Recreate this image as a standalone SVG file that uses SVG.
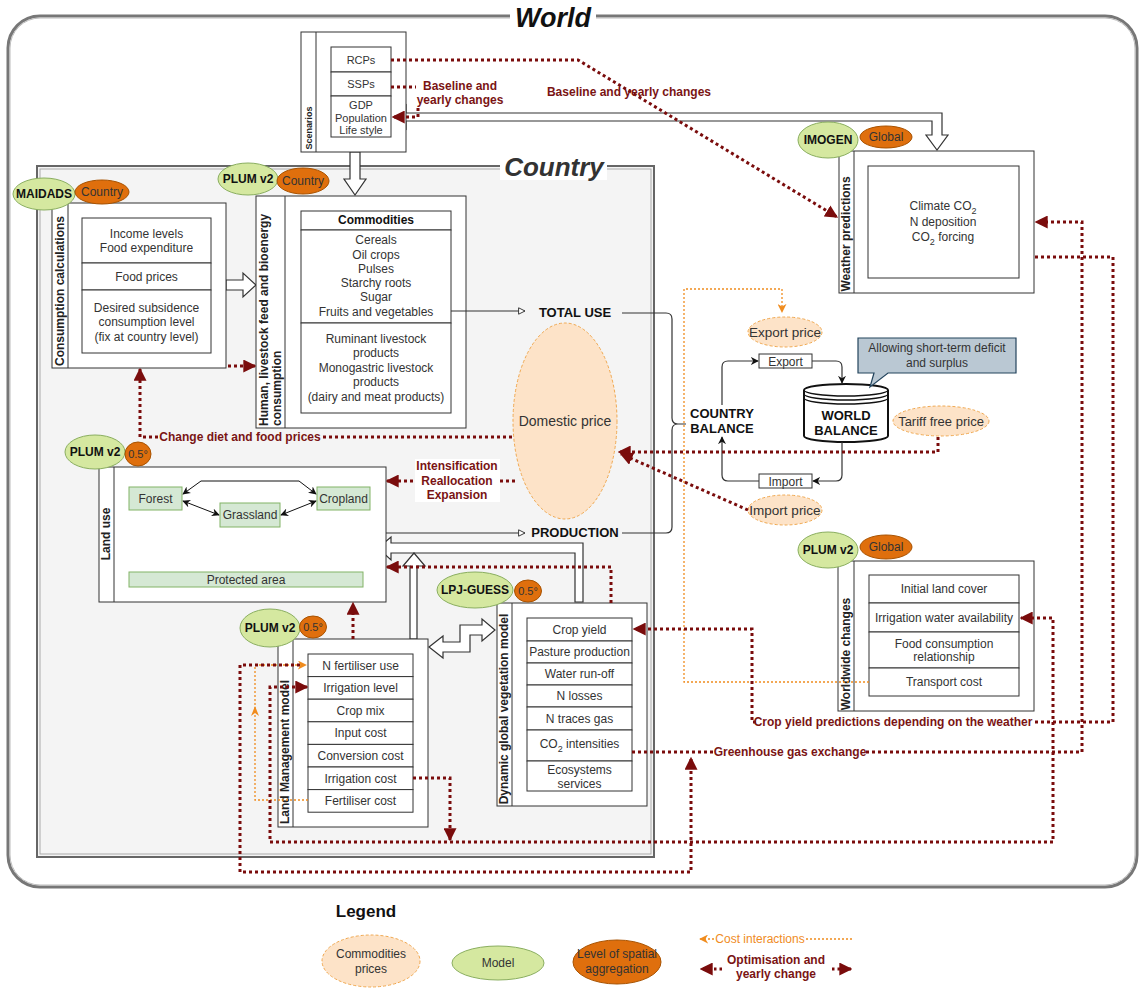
<svg xmlns="http://www.w3.org/2000/svg" width="1140" height="991" viewBox="0 0 1140 991">
<style>
text{font-family:"Liberation Sans",Arial,sans-serif;fill:#333;text-anchor:middle}
.t{font-size:12px}
.s{font-size:11px}
.b{font-weight:bold}
.strip{font-size:12px;font-weight:bold;fill:#222}
.box{fill:#fff;stroke:#333;stroke-width:1}
.green{fill:#d5e8a0;stroke:#8aae60;stroke-width:1}
.orange{fill:#df6f0d;stroke:#a85200;stroke-width:1}
.peach{fill:#fde3c8;stroke:#f0a850;stroke-width:1;stroke-dasharray:3 2}
.lu{fill:#d5e8d4;stroke:#82b366;stroke-width:1}
.red{fill:none;stroke:#7a0c0c;stroke-width:3;stroke-dasharray:3 3}
.org{fill:none;stroke:#f08c1e;stroke-width:1.3;stroke-dasharray:2 2}
.blk{fill:none;stroke:#333;stroke-width:1.2}
.hollow{fill:#fff;stroke:#333;stroke-width:1.2}
.rl{font-size:12px;font-weight:bold;fill:#7a1414}
</style>
<defs>
<marker id="mr" viewBox="0 0 10 10" refX="9" refY="5" markerWidth="13" markerHeight="13" markerUnits="userSpaceOnUse" orient="auto-start-reverse"><path d="M0,0 L10,5 L0,10 z" fill="#7a0c0c"/></marker>
<marker id="mb" viewBox="0 0 10 10" refX="9" refY="5" markerWidth="8" markerHeight="8" markerUnits="userSpaceOnUse" orient="auto-start-reverse"><path d="M0,0 L10,5 L0,10 L3,5 z" fill="#111"/></marker>
<marker id="mo" viewBox="0 0 10 10" refX="9" refY="5" markerWidth="9" markerHeight="9" markerUnits="userSpaceOnUse" orient="auto-start-reverse"><path d="M0,0 L10,5 L0,10 L3,5 z" fill="#f08c1e"/></marker>
<marker id="mw" viewBox="0 0 10 10" refX="9" refY="5" markerWidth="8" markerHeight="8" markerUnits="userSpaceOnUse" orient="auto"><path d="M1,1 L9,5 L1,9 z" fill="#fff" stroke="#333" stroke-width="1.2"/></marker>
</defs>

<!-- Frames -->
<g id="world-frame">
<rect x="8" y="16" width="1129" height="871" rx="32" fill="#fff" stroke="#777" stroke-width="3"/>
<rect x="10" y="18" width="1125" height="867" rx="30" fill="none" stroke="#bbb" stroke-width="1"/>
<rect x="510" y="4" width="86" height="26" fill="#fff"/>
<text x="553" y="27" style="font-size:27px;font-weight:bold;font-style:italic;fill:#111">World</text>
</g>
<g id="country-frame">
<rect x="37" y="166" width="617" height="691" fill="#f4f4f4" stroke="#666" stroke-width="2"/>
<rect x="40" y="169" width="611" height="685" fill="none" stroke="#aaa" stroke-width="1"/>
<rect x="500" y="152" width="107" height="28" fill="#fff"/>
<text x="554" y="176" style="font-size:26px;font-weight:bold;font-style:italic;fill:#333">Country</text>
</g>

<!-- Hollow arrows -->
<g id="hollow-arrows">
<polygon class="hollow" points="392,117 406,105 406,113 942,113 942,135 948,135 937,150 926,135 932,135 932,121 406,121 406,129"/>
<polygon class="hollow" points="350,152 360,152 360,179 366,179 355,195 344,179 350,179"/>
<polygon class="hollow" points="226,280 243,280 243,273 256,285 243,297 243,290 226,290"/>
<polygon class="hollow" points="378,548 391,537 391,543 583,543 583,602 575,602 575,553 391,553 391,560"/>
<polygon class="hollow" points="410,639 410,566 403,566 414,553 425,566 417,566 417,639"/>
<polygon class="hollow" points="429,647 443,636 443,642 460,642 460,625 482,625 482,619 495,630 482,641 482,635 470,635 470,652 443,652 443,658"/>
</g>

<!-- Scenarios -->
<g id="scenarios">
<rect class="box" x="301" y="32" width="105" height="120"/>
<line x1="316" y1="32" x2="316" y2="152" stroke="#333"/>
<text transform="translate(312,128) rotate(-90)" style="font-size:9px;font-weight:bold;fill:#222">Scenarios</text>
<rect class="box" x="331" y="47" width="60" height="25"/>
<rect class="box" x="331" y="72" width="60" height="24"/>
<rect class="box" x="331" y="96" width="60" height="41"/>
<text class="s" x="361" y="64">RCPs</text>
<text class="s" x="361" y="88">SSPs</text>
<text class="s" x="361" y="109">GDP</text>
<text class="s" x="361" y="122">Population</text>
<text class="s" x="361" y="134">Life style</text>
</g>

<!-- Weather predictions -->
<g id="weather">
<rect class="box" x="839" y="151" width="195" height="142"/>
<line x1="854" y1="151" x2="854" y2="293" stroke="#333"/>
<text class="strip" transform="translate(850,234) rotate(-90)">Weather predictions</text>
<rect class="box" x="868" y="166" width="151" height="112"/>
<text class="t" x="943" y="210">Climate CO<tspan dy="4" style="font-size:9px">2</tspan></text>
<text class="t" x="943" y="226">N deposition</text>
<text class="t" x="943" y="241">CO<tspan dy="4" style="font-size:9px">2</tspan><tspan dy="-4"> forcing</tspan></text>
<ellipse class="green" cx="828" cy="140" rx="30" ry="18"/>
<text class="t b" x="828" y="144" style="fill:#111">IMOGEN</text>
<ellipse class="orange" cx="886" cy="137" rx="26" ry="11"/>
<text class="t" x="886" y="141">Global</text>
</g>

<!-- Consumption calculations -->
<g id="consumption">
<rect class="box" x="52" y="203" width="174" height="165"/>
<line x1="68" y1="203" x2="68" y2="368" stroke="#333"/>
<text class="strip" transform="translate(64,291) rotate(-90)">Consumption calculations</text>
<rect class="box" x="82" y="218" width="129" height="45"/>
<rect class="box" x="82" y="263" width="129" height="27"/>
<rect class="box" x="82" y="290" width="129" height="63"/>
<text class="t" x="146.5" y="238">Income levels</text>
<text class="t" x="146.5" y="252">Food expenditure</text>
<text class="t" x="146.5" y="281">Food prices</text>
<text class="t" x="146.5" y="312">Desired subsidence</text>
<text class="t" x="146.5" y="326">consumption level</text>
<text class="t" x="146.5" y="341">(fix at country level)</text>
<ellipse class="green" cx="44" cy="194" rx="31" ry="16"/>
<text class="t b" x="44" y="198" style="fill:#111">MAIDADS</text>
<ellipse class="orange" cx="102" cy="192" rx="27" ry="12"/>
<text class="t" x="102" y="196">Country</text>
</g>

<!-- Human consumption -->
<g id="human-consumption">
<rect class="box" x="256" y="196" width="210" height="232"/>
<line x1="285" y1="196" x2="285" y2="428" stroke="#333"/>
<text class="strip" transform="translate(268,426) rotate(-90)" style="text-anchor:start">Human, livestock feed and bioenergy</text>
<text class="strip" transform="translate(281,426) rotate(-90)" style="text-anchor:start">consumption</text>
<rect class="box" x="301" y="211" width="150" height="19"/>
<rect class="box" x="301" y="230" width="150" height="93"/>
<rect class="box" x="301" y="323" width="150" height="90"/>
<text class="t b" x="376" y="224" style="fill:#111">Commodities</text>
<text class="t" x="376" y="244">Cereals</text>
<text class="t" x="376" y="259">Oil crops</text>
<text class="t" x="376" y="273">Pulses</text>
<text class="t" x="376" y="287">Starchy roots</text>
<text class="t" x="376" y="301">Sugar</text>
<text class="t" x="376" y="316">Fruits and vegetables</text>
<text class="t" x="376" y="343">Ruminant livestock</text>
<text class="t" x="376" y="357">products</text>
<text class="t" x="376" y="372">Monogastric livestock</text>
<text class="t" x="376" y="386">products</text>
<text class="t" x="376" y="401">(dairy and meat products)</text>
<ellipse class="green" cx="248" cy="179" rx="30" ry="16"/>
<text class="t b" x="248" y="183" style="fill:#111">PLUM v2</text>
<ellipse class="orange" cx="303" cy="181" rx="26" ry="13"/>
<text class="t" x="303" y="185">Country</text>
</g>

<!-- Land use -->
<g id="land-use">
<rect class="box" x="99" y="467" width="287" height="135"/>
<line x1="114" y1="467" x2="114" y2="602" stroke="#333"/>
<text class="strip" transform="translate(110,534) rotate(-90)">Land use</text>
<rect class="lu" x="129" y="487" width="53" height="23"/>
<rect class="lu" x="220" y="503" width="60" height="24"/>
<rect class="lu" x="317" y="487" width="53" height="23"/>
<rect class="lu" x="129" y="572" width="234" height="15"/>
<text class="t" x="155.5" y="503">Forest</text>
<text class="t" x="250" y="519">Grassland</text>
<text class="t" x="343.5" y="503">Cropland</text>
<text class="t" x="246" y="584">Protected area</text>
<path d="M183,494 L201,481 L299,481 L316,494" fill="none" stroke="#111" stroke-width="1" marker-start="url(#mb)" marker-end="url(#mb)"/>
<path d="M183,501 L219,515" fill="none" stroke="#111" stroke-width="1" marker-start="url(#mb)" marker-end="url(#mb)"/>
<path d="M316,501 L281,515" fill="none" stroke="#111" stroke-width="1" marker-start="url(#mb)" marker-end="url(#mb)"/>
<ellipse class="green" cx="95" cy="452" rx="30" ry="17"/>
<text class="t b" x="95" y="456" style="fill:#111">PLUM v2</text>
<ellipse class="orange" cx="138" cy="454" rx="13" ry="12"/>
<text class="s" x="138" y="458">0.5°</text>
</g>

<!-- Land Management model -->
<g id="land-management">
<rect class="box" x="278" y="639" width="150" height="188"/>
<line x1="293" y1="639" x2="293" y2="827" stroke="#333"/>
<text class="strip" transform="translate(289,752) rotate(-90)">Land Management model</text>
<rect class="box" x="308" y="654" width="105" height="22.6"/>
<rect class="box" x="308" y="676.6" width="105" height="22.6"/>
<rect class="box" x="308" y="699.2" width="105" height="22.6"/>
<rect class="box" x="308" y="721.8" width="105" height="22.6"/>
<rect class="box" x="308" y="744.4" width="105" height="22.6"/>
<rect class="box" x="308" y="767" width="105" height="22.6"/>
<rect class="box" x="308" y="789.6" width="105" height="22.6"/>
<text class="t" x="360.5" y="669.5">N fertiliser use</text>
<text class="t" x="360.5" y="692">Irrigation level</text>
<text class="t" x="360.5" y="714.5">Crop mix</text>
<text class="t" x="360.5" y="737">Input cost</text>
<text class="t" x="360.5" y="760">Conversion cost</text>
<text class="t" x="360.5" y="782.5">Irrigation cost</text>
<text class="t" x="360.5" y="805">Fertiliser cost</text>
<ellipse class="green" cx="270" cy="628" rx="30" ry="19"/>
<text class="t b" x="270" y="632" style="fill:#111">PLUM v2</text>
<ellipse class="orange" cx="313" cy="627" rx="13.5" ry="11"/>
<text class="s" x="313" y="631">0.5°</text>
</g>

<!-- DGVM -->
<g id="dgvm">
<rect class="box" x="497" y="603" width="150" height="203"/>
<line x1="512" y1="603" x2="512" y2="806" stroke="#333"/>
<text class="strip" transform="translate(508,709) rotate(-90)">Dynamic global vegetation model</text>
<rect class="box" x="527" y="618" width="105" height="23"/>
<rect class="box" x="527" y="641" width="105" height="22"/>
<rect class="box" x="527" y="663" width="105" height="22"/>
<rect class="box" x="527" y="685" width="105" height="22"/>
<rect class="box" x="527" y="707" width="105" height="23"/>
<rect class="box" x="527" y="730" width="105" height="31"/>
<rect class="box" x="527" y="761" width="105" height="30"/>
<text class="t" x="579.5" y="634">Crop yield</text>
<text class="t" x="579.5" y="656">Pasture production</text>
<text class="t" x="579.5" y="678">Water run-off</text>
<text class="t" x="579.5" y="700">N losses</text>
<text class="t" x="579.5" y="722.5">N traces gas</text>
<text class="t" x="579.5" y="748">CO<tspan dy="4" style="font-size:9px">2</tspan><tspan dy="-4"> intensities</tspan></text>
<text class="t" x="579.5" y="774">Ecosystems</text>
<text class="t" x="579.5" y="788">services</text>
<ellipse class="green" cx="475" cy="590" rx="38" ry="18"/>
<text class="t b" x="475" y="594" style="fill:#111">LPJ-GUESS</text>
<ellipse class="orange" cx="528" cy="591" rx="13.5" ry="11"/>
<text class="s" x="528" y="595">0.5°</text>
</g>

<!-- Worldwide changes -->
<g id="worldwide">
<rect class="box" x="838" y="561" width="196" height="150"/>
<line x1="854" y1="561" x2="854" y2="711" stroke="#333"/>
<text class="strip" transform="translate(850,654) rotate(-90)">Worldwide changes</text>
<rect class="box" x="869" y="575" width="150" height="28"/>
<rect class="box" x="869" y="603" width="150" height="29"/>
<rect class="box" x="869" y="632" width="150" height="36"/>
<rect class="box" x="869" y="668" width="150" height="28"/>
<text class="t" x="944" y="593">Initial land cover</text>
<text class="t" x="944" y="622">Irrigation water availability</text>
<text class="t" x="944" y="648">Food consumption</text>
<text class="t" x="944" y="661">relationship</text>
<text class="t" x="944" y="686">Transport cost</text>
<ellipse class="green" cx="828" cy="550" rx="30" ry="18"/>
<text class="t b" x="828" y="554" style="fill:#111">PLUM v2</text>
<ellipse class="orange" cx="886" cy="547" rx="26" ry="12"/>
<text class="t" x="886" y="551">Global</text>
</g>

<!-- Prices and balance -->
<g id="domestic-price">
<ellipse class="peach" cx="565" cy="421" rx="52" ry="98"/>
<text x="565" y="426" style="font-size:14px">Domestic price</text>
</g>
<g id="export-price"><ellipse class="peach" cx="785" cy="332" rx="37" ry="15"/><text x="785" y="337" style="font-size:13.5px">Export price</text></g>
<g id="import-price"><ellipse class="peach" cx="785" cy="510" rx="37" ry="15"/><text x="785" y="515" style="font-size:13.5px">Import price</text></g>
<g id="tariff-price"><ellipse class="peach" cx="941" cy="421" rx="48" ry="15"/><text x="941" y="426" style="font-size:13px">Tariff free price</text></g>
<g id="export"><rect class="box" x="759" y="354" width="53" height="14"/><text class="t" x="785.5" y="365.5">Export</text></g>
<g id="import"><rect class="box" x="759" y="474" width="53" height="14"/><text class="t" x="785.5" y="485.5">Import</text></g>
<g id="country-balance">
<text x="722" y="418" style="font-size:13px;font-weight:bold;fill:#111">COUNTRY</text>
<text x="722" y="433" style="font-size:13px;font-weight:bold;fill:#111">BALANCE</text>
</g>
<g id="world-balance">
<path d="M804,390 A42,6 0 0 1 888,390 L888,436 A42,6 0 0 1 804,436 Z" fill="#fff" stroke="#111" stroke-width="2"/>
<path d="M804,390 A42,6 0 0 0 888,390 M804,394 A42,6 0 0 0 888,394 M804,398 A42,6 0 0 0 888,398" fill="none" stroke="#111" stroke-width="1.3"/>
<text x="846" y="420" style="font-size:13px;font-weight:bold;fill:#111">WORLD</text>
<text x="846" y="435" style="font-size:13px;font-weight:bold;fill:#111">BALANCE</text>
</g>
<g id="callout">
<path d="M858,338 H1016 V373 H888 L870,387 L874,373 H858 Z" fill="#bac8d3" stroke="#23445d" stroke-width="1.2"/>
<text class="t" x="937" y="352">Allowing short-term deficit</text>
<text class="t" x="937" y="367">and surplus</text>
</g>
<g id="total-use"><text x="575" y="317" style="font-size:13px;font-weight:bold;fill:#111">TOTAL USE</text></g>
<g id="production"><text x="575" y="537" style="font-size:13px;font-weight:bold;fill:#111">PRODUCTION</text></g>

<!-- Connectors -->
<g id="connectors">
<!-- black -->
<path class="blk" d="M451,311 L525,311" marker-end="url(#mw)"/>
<path class="blk" d="M386,533 L525,533" marker-end="url(#mw)"/>
<path class="blk" d="M622,313 L666,313 Q672,313 672,319 L672,418 Q672,424 678,424 L686,424 M622,533 L666,533 Q672,533 672,527 L672,430 Q672,424 678,424"/>
<path class="blk" d="M722,405 L722,367 Q722,361 728,361 L758,361" marker-end="url(#mb)"/>
<path class="blk" d="M812,361 L836,361 Q842,361 842,367 L842,383" marker-end="url(#mb)"/>
<path class="blk" d="M842,442 L842,475 Q842,481 836,481 L813,481" marker-end="url(#mb)"/>
<path class="blk" d="M759,481 L728,481 Q722,481 722,475 L722,437" marker-end="url(#mb)"/>
<!-- orange cost interactions -->
<path class="org" d="M869,682 L684,682 L684,289 L782,289 L782,312" marker-end="url(#mo)"/>
<path class="org" d="M308,800 L255,800 L255,665 L306,665" marker-end="url(#mo)"/>
<path d="M251,716 L255,706 L259,716 L255,713 Z" fill="#f08c1e"/>
<!-- red optimisation -->
<path class="red" d="M391,60 L578,60 L837,217" marker-end="url(#mr)"/>
<path class="red" d="M391,87 L418,87 L418,117 L393,117" marker-end="url(#mr)"/>
<path class="red" d="M228,366 L255,366" marker-end="url(#mr)"/>
<path class="red" d="M512,437 L140,437 L140,369" marker-end="url(#mr)"/>
<path class="red" d="M515,481 L387,481" marker-end="url(#mr)"/>
<path class="red" d="M938,437 L938,452 L619,452" marker-end="url(#mr)"/>
<path class="red" d="M748,510 L621,454" marker-end="url(#mr)"/>
<path class="red" d="M611,603 L611,567 L387,567" marker-end="url(#mr)"/>
<path class="red" d="M353,639 L353,603" marker-end="url(#mr)"/>
<path class="red" d="M632,752 L1082,752 L1082,222 L1036,222" marker-end="url(#mr)"/>
<path class="red" d="M1035,257 L1113,257 L1113,722 L752,722 L752,629 L634,629" marker-end="url(#mr)"/>
<path class="red" d="M307,687 L270,687 L270,842 L1053,842 L1053,618 L1021,618" marker-start="url(#mr)" marker-end="url(#mr)"/>
<path class="red" d="M413,778 L450,778 L450,840" marker-end="url(#mr)"/>
<path class="red" d="M300,665 L240,665 L240,872 L691,872 L691,758" marker-end="url(#mr)"/>
<!-- labels -->
<rect x="416" y="77" width="88" height="30" fill="#fff"/>
<text class="rl" x="460" y="90">Baseline and</text>
<text class="rl" x="460" y="104">yearly changes</text>
<text class="rl" x="629" y="96">Baseline and yearly changes</text>
<rect x="158" y="429" width="164" height="15" fill="#f4f4f4"/>
<text class="rl" x="240" y="441">Change diet and food prices</text>
<rect x="415" y="459" width="85" height="43" fill="#fff"/>
<text class="rl" x="457" y="470">Intensification</text>
<text class="rl" x="457" y="485">Reallocation</text>
<text class="rl" x="457" y="499">Expansion</text>
<rect x="756" y="714" width="276" height="15" fill="#fff"/>
<text class="rl" x="893" y="726">Crop yield predictions depending on the weather</text>
<rect x="714" y="744" width="152" height="15" fill="#fff"/>
<text class="rl" x="790" y="756">Greenhouse gas exchange</text>
</g>

<!-- Legend -->
<g id="legend">
<text x="366" y="917" style="font-size:17px;font-weight:bold;fill:#111">Legend</text>
<ellipse class="peach" cx="371" cy="961" rx="49" ry="26"/>
<text class="t" x="371" y="958">Commodities</text>
<text class="t" x="371" y="973">prices</text>
<ellipse class="green" cx="498" cy="963" rx="46" ry="17"/>
<text class="t" x="498" y="967">Model</text>
<ellipse class="orange" cx="617" cy="962" rx="44" ry="22"/>
<text class="t" x="617" y="958">Level of spatial</text>
<text class="t" x="617" y="973">aggregation</text>
<path class="org" d="M714,939 L700,939" marker-end="url(#mo)"/>
<text x="760" y="943" style="font-size:12px;fill:#f08c1e">Cost interactions</text>
<path class="org" d="M806,939 L853,939"/>
<path class="red" d="M722,969 L701,969" marker-end="url(#mr)" style="stroke-dasharray:2.5 3"/>
<text class="rl" x="776" y="964">Optimisation and</text>
<text class="rl" x="776" y="978">yearly change</text>
<path class="red" d="M832,969 L851,969" marker-end="url(#mr)" style="stroke-dasharray:2.5 3"/>
</g>
</svg>
